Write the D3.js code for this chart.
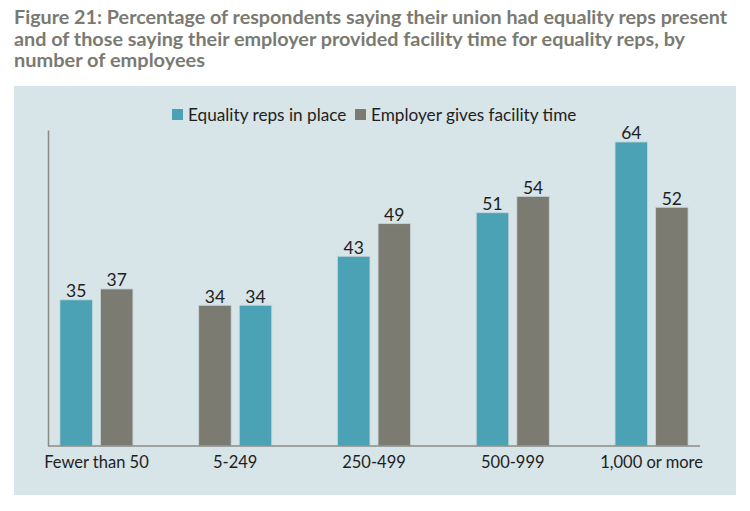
<!DOCTYPE html>
<html lang="en">
<head>
<meta charset="utf-8">
<title>Figure 21</title>
<script src="https://d3js.org/d3.v7.min.js"></script>
<style>
  body { margin: 0; background: #fff; }
  svg { display: block; }
  text { font-family: Lato, "Open Sans", sans-serif; }
</style>
</head>
<body>
<svg width="750" height="511"></svg>
<script>
const categories = ["Fewer than 50", "5-249", "250-499", "500-999", "1,000 or more"];
const repsInPlace = [35, 34, 43, 51, 64];
const facilityTime = [37, 34, 49, 54, 52];
// the original draws the grey bar first in this group
const swapped = ["5-249"];
const seriesNames = ["Equality reps in place", "Employer gives facility time"];
const titleLines = [
  "Figure 21: Percentage of respondents saying their union had equality reps present",
  "and of those saying their employer provided facility time for equality reps, by",
  "number of employees"
];
const titleWidths = [713, 671, 191];

const colors = { reps: "#4aa2b4", time: "#7b7b72" };
const svg = d3.select("svg");

// title
svg.selectAll("text.title")
  .data(titleLines)
  .join("text")
  .attr("class", "title")
  .attr("x", 14)
  .attr("y", (d, i) => 24 + i * 21.5)
  .attr("fill", "#7a7a72")
  .attr("font-size", "18.5px")
  .attr("font-weight", "bold")
  .attr("textLength", (d, i) => titleWidths[i])
  .attr("lengthAdjust", "spacingAndGlyphs")
  .text(d => d);

// panel
svg.append("rect")
  .attr("x", 14).attr("y", 86)
  .attr("width", 722).attr("height", 409)
  .attr("fill", "#d7e4e8");

const xScale = d3.scaleBand()
  .domain(categories)
  .range([48, 700])
  .paddingInner(0.474)
  .paddingOuter(0.086);

const inner = d3.scaleBand()
  .domain([0, 1])
  .range([0, xScale.bandwidth()])
  .paddingInner(0.2);

const yScale = d3.scaleLinear()
  .domain([8.15, 66.2])
  .range([446, 130]);

const data = [];
categories.forEach((c, i) => {
  const pair = [
    { cat: c, key: "reps", value: repsInPlace[i] },
    { cat: c, key: "time", value: facilityTime[i] }
  ];
  if (swapped.includes(c)) pair.reverse();
  pair.forEach((d, j) => { d.slot = j; data.push(d); });
});

svg.append("g")
  .selectAll("rect")
  .data(data)
  .join("rect")
  .attr("x", d => xScale(d.cat) + inner(d.slot))
  .attr("y", d => yScale(d.value))
  .attr("width", inner.bandwidth())
  .attr("height", d => yScale.range()[0] - yScale(d.value))
  .attr("fill", d => colors[d.key])
  .attr("stroke", "#c4d6da")
  .attr("stroke-width", 0.8);

svg.append("g")
  .selectAll("text")
  .data(data)
  .join("text")
  .attr("x", d => xScale(d.cat) + inner(d.slot) + inner.bandwidth() / 2)
  .attr("y", d => yScale(d.value) - 2.5)
  .attr("text-anchor", "middle")
  .attr("font-size", "17.5px")
  .attr("fill", "#1e1e1e")
  .text(d => d.value);

// axes
const bottomAxis = d3.axisBottom(xScale).tickSize(0).tickPadding(10);
const gx = svg.append("g")
  .attr("transform", "translate(0,446)")
  .call(bottomAxis);
gx.select(".domain").attr("stroke", "#8c8c86").attr("stroke-width", 1.5).attr("d", "M48,0H700");
gx.selectAll("text")
  .attr("font-size", "16.5px")
  .attr("fill", "#1e1e1e")
  .attr("font-family", "Lato, sans-serif");

const leftAxis = d3.axisLeft(yScale).tickValues([]).tickSize(0);
const gy = svg.append("g")
  .attr("transform", "translate(48,0)")
  .call(leftAxis);
gy.select(".domain").attr("stroke", "#8c8c86").attr("stroke-width", 1.5);

// legend
const legend = svg.append("g").attr("transform", "translate(172,121)");
const legendX = [0, 183];
seriesNames.forEach((name, i) => {
  const g = legend.append("g").attr("transform", `translate(${legendX[i]},0)`);
  g.append("rect").attr("x", 0).attr("y", -12).attr("width", 11).attr("height", 11)
    .attr("fill", i == 0 ? colors.reps : colors.time);
  g.append("text").attr("x", 16).attr("y", 0)
    .attr("font-size", "17.2px").attr("fill", "#1e1e1e")
    .text(name);
});
</script>
</body>
</html>
